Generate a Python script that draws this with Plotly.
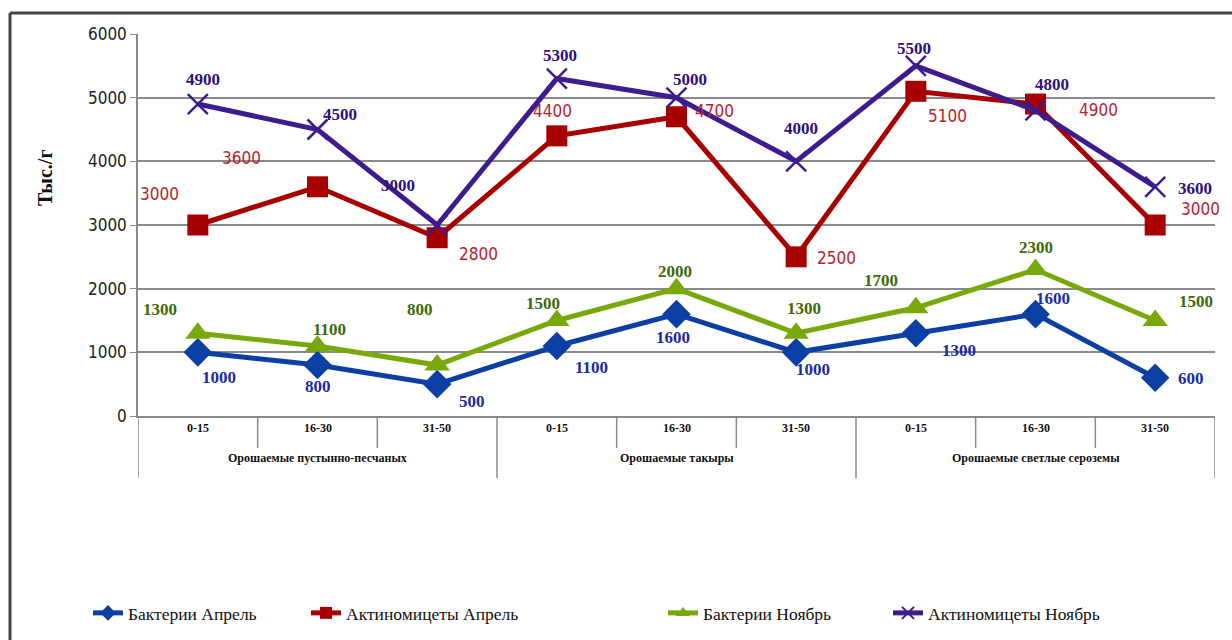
import plotly.graph_objects as go

# Soil depth layers (cm) and soil groups
depths = ["0-15", "16-30", "31-50", "0-15", "16-30", "31-50", "0-15", "16-30", "31-50"]
groups = ["Орошаемые пустынно-песчаных", "Орошаемые такыры", "Орошаемые светлые сероземы"]

bact_apr = [1000, 800, 500, 1100, 1600, 1000, 1300, 1600, 600]
actino_apr = [3000, 3600, 2800, 4400, 4700, 2500, 5100, 4900, 3000]
bact_nov = [1300, 1100, 800, 1500, 2000, 1300, 1700, 2300, 1500]
actino_nov = [4900, 4500, 3000, 5300, 5000, 4000, 5500, 4800, 3600]

series_names = ["Бактерии Апрель", "Актиномицеты Апрель", "Бактерии Ноябрь", "Актиномицеты Ноябрь"]
y_ticks = [0, 1000, 2000, 3000, 4000, 5000, 6000]

W, H = 1232, 640
PLOT_L, PLOT_R, PLOT_T, PLOT_B = 138, 1215, 34, 416

x = list(range(len(depths)))

SERIF = "Liberation Serif, Times New Roman, serif"
NARROW = "Liberation Sans Narrow, Arial Narrow, DejaVu Sans Condensed, sans-serif"


def fx(px):
    return px / W


def fy(py):
    return 1 - py / H


styles = [
    dict(values=bact_apr, line="#0B3FA3", label="#1A2BA6", symbol="diamond", size=22,
         mline=0, font=SERIF, bold=True,
         offs=[(21, 25), (0, 21), (35, 17), (35, 22), (-4, 23), (17, 17), (43, 17), (17, -16), (36, 1)]),
    dict(values=actino_apr, line="#A80000", label="#B8232A", symbol="square", size=21,
         mline=0, font=NARROW, bold=False,
         offs=[(-38, -31), (-76, -29), (41, 16), (-4, -25), (38, -6), (40, 1), (32, 25), (63, 6), (45, -16)]),
    dict(values=bact_nov, line="#78A80A", label="#3D6B0A", symbol="triangle-up", size=22,
         mline=0, font=SERIF, bold=True,
         offs=[(-38, -24), (12, -16), (-17, -56), (-14, -17), (-2, -17), (8, -25), (-35, -27), (0, -22), (41, -19)]),
    dict(values=actino_nov, line="#3E1B8E", label="#2E1180", symbol="x-thin", size=20,
         mline=2.5, font=SERIF, bold=True,
         offs=[(5, -25), (22, -15), (-39, -40), (3, -23), (13, -18), (5, -33), (-2, -17), (16, -26), (40, 2)]),
]

fig = go.Figure()
annotations = []
legend_x = [96, 314, 671, 896]

for i, (name, st) in enumerate(zip(series_names, styles)):
    legend_id = "legend" if i == 0 else f"legend{i + 1}"
    fig.add_trace(go.Scatter(
        x=x, y=st["values"], name=name, mode="lines+markers",
        line=dict(color=st["line"], width=5),
        marker=dict(symbol=st["symbol"], size=st["size"], color=st["line"],
                    line=dict(color=st["line"], width=st["mline"])),
        legend=legend_id, showlegend=True,
    ))
    for xi, v, (dx, dy) in zip(x, st["values"], st["offs"]):
        txt = f"<b>{v}</b>" if st["bold"] else str(v)
        annotations.append(dict(
            x=xi, y=v, xref="x", yref="y", text=txt, showarrow=False,
            xshift=dx, yshift=-dy,
            font=dict(family=st["font"], size=17, color=st["label"]),
        ))

# Category table under the plot: depth labels and soil group labels
for xi, d in zip(x, depths):
    annotations.append(dict(x=xi, y=fy(437), xref="x", yref="paper", text=f"<b>{d}</b>",
                            showarrow=False, font=dict(family=SERIF, size=12, color="#111")))
for gi, g in enumerate(groups):
    annotations.append(dict(x=gi * 3 + 1, y=fy(467), xref="x", yref="paper", text=f"<b>{g}</b>",
                            showarrow=False, font=dict(family=SERIF, size=12, color="#111")))

# Y-axis title
annotations.append(dict(x=fx(45), y=fy(178), xref="paper", yref="paper", text="<b>Тыс./г</b>",
                        xanchor="center", yanchor="middle",
                        showarrow=False, textangle=-90,
                        font=dict(family=SERIF, size=20, color="#111")))

shapes = []
for k in range(len(depths) + 1):
    bottom = 478 if k % 3 == 0 else 448
    shapes.append(dict(type="line", xref="x", yref="paper", x0=k - 0.5, x1=k - 0.5,
                       y0=fy(PLOT_B), y1=fy(bottom), line=dict(color="#8A8A8A", width=1.5)))

# Outer chart frame (top and left edges)
shapes.append(dict(type="line", xref="paper", yref="paper",
                   x0=fx(10), x1=1.01, y0=fy(13), y1=fy(13),
                   line=dict(color="#444", width=3)))
shapes.append(dict(type="line", xref="paper", yref="paper",
                   x0=fx(10), x1=fx(10), y0=fy(13), y1=-0.01,
                   line=dict(color="#444", width=3)))

layout_legends = {}
for i, lx in enumerate(legend_x):
    key = "legend" if i == 0 else f"legend{i + 1}"
    layout_legends[key] = dict(
        x=fx(lx - 8), y=fy(613), xref="paper", yref="paper",
        xanchor="left", yanchor="middle", bgcolor="rgba(0,0,0,0)", borderwidth=0,
        font=dict(family=SERIF, size=17.5, color="#111"), itemwidth=30, itemsizing="constant",
    )

fig.update_layout(
    width=W, height=H,
    margin=dict(l=0, r=0, t=0, b=0, autoexpand=False),
    paper_bgcolor="white", plot_bgcolor="white",
    xaxis=dict(domain=[fx(PLOT_L), fx(PLOT_R)], range=[-0.5, len(depths) - 0.5],
               showticklabels=False, showgrid=False, automargin=False,
               zeroline=False, showline=True, linecolor="#8A8A8A", linewidth=1.5, ticks=""),
    yaxis=dict(domain=[fy(PLOT_B), fy(PLOT_T)], range=[0, 6000], tickvals=y_ticks,
               showgrid=True, gridcolor="#8A8A8A", gridwidth=1.5, automargin=False,
               zeroline=False, showline=True, linecolor="#8A8A8A", linewidth=1.5,
               ticks="outside", ticklen=6, tickcolor="#8A8A8A",
               tickfont=dict(family=NARROW, size=17, color="#222")),
    annotations=annotations, shapes=shapes,
    **layout_legends,
)

fig.write_html("out.html")
